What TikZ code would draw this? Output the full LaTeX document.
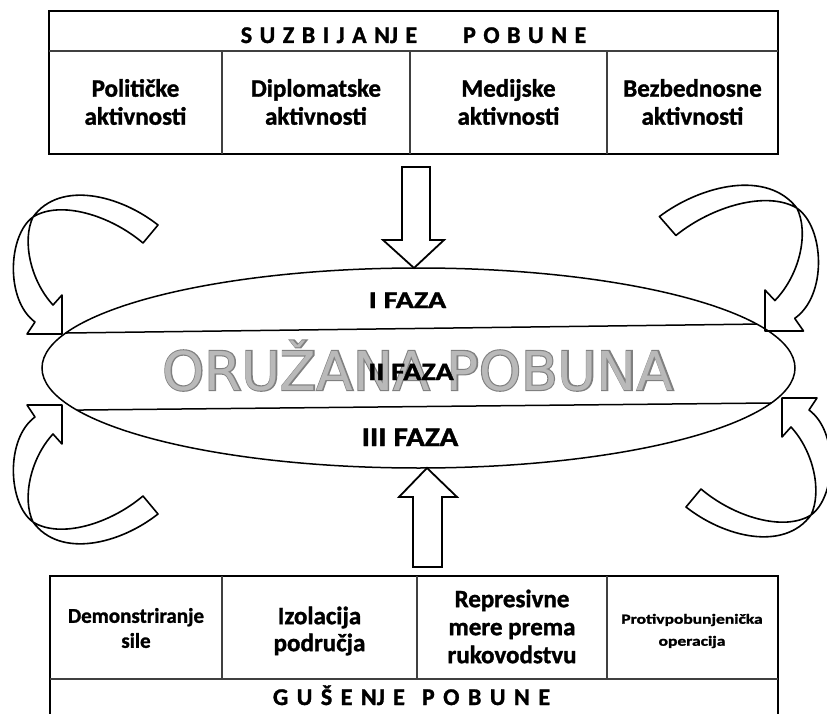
\documentclass[tikz,border=0pt]{standalone}
\usepackage{fontspec}
\setmainfont{Carlito}[BoldFeatures={FakeBold=1.3}]
\newfontfamily\dejavu{DejaVu Sans}
\newfontfamily\dejavuol{DejaVu Sans}[FakeBold=4]
\newcommand\lspa{\hspace{7.5pt}}
\newcommand\lspb{\hspace{8.5pt}}
\tikzset{
  outerbox/.style={draw=black, line width=2.8pt},
  divider/.style={draw=black!75, line width=1.8pt},
  cell/.style={font=\bfseries\fontsize{25}{28}\selectfont, align=center, inner sep=0pt},
  hdr/.style={font=\bfseries\fontsize{24}{28}\selectfont, anchor=base, inner sep=0pt},
  faza/.style={anchor=base, inner sep=0pt},
  blockarrow/.style={draw=black, fill=white, line width=1.8pt, line join=miter},
  curvestyle/.style={draw=black, fill=white, line width=1.6pt, line join=round},
  bigtext/.style={font=\dejavu\fontsize{53.5}{60}\selectfont, anchor=base, inner sep=0pt},
  curvarrow/.pic={
    \path[curvestyle] (96,-109) .. controls (58,-139) and (-2,-154) .. (-29,-117)
      .. controls (-40,-94) and (-32,-54) .. (-9,-29)
      -- (0,-39) -- (0,0) -- (-35,0) -- (-27,-12)
      .. controls (-57,-34) and (-54,-99) .. (-29,-117)
      .. controls (-2,-134) and (48,-119) .. (81,-91) -- cycle;
  }
}
\begin{document}
\begin{tikzpicture}[x=1pt,y=-1pt]
\clip (0,0) rectangle (827,714);
\fill[white] (0,0) rectangle (827,714);

% top box
\draw[outerbox] (49,11) rectangle (778,154);
\draw[divider] (49,51) -- (778,51);
\foreach \xx in {222,410,607} \draw[divider] (\xx,51) -- (\xx,154);
\node[hdr] (suz) at (413.5,43) {S\lspa U\lspa Z\lspa B\lspa I\lspa J\lspa A\lspa NJ\lspa E\hspace{46pt}P\lspa O\lspa B\lspa U\lspa N\lspa E};
\node[cell] (pol) at (135.5,102) {Političke\\aktivnosti};
\node[cell] (dip) at (316,102) {Diplomatske\\aktivnosti};
\node[cell] (med) at (508.5,102) {Medijske\\aktivnosti};
\node[cell] (bez) at (692.5,102) {Bezbednosne\\aktivnosti};

% block arrows
\path[blockarrow] (402,167) -- (430,167) -- (430,240) -- (444,240) -- (414,268) -- (383,240) -- (402,240) -- cycle;
\path[blockarrow] (413,567) -- (413,497) -- (399,497) -- (427,468) -- (457,497) -- (442,497) -- (442,567) -- cycle;

% curved arrows
\pic at (62,334) {curvarrow};
\pic[yscale=-1] at (62,405) {curvarrow};
\pic[xscale=-1.1, yscale=1.05] at (765,331) {curvarrow};
\pic[xscale=-1, yscale=-1] at (782,398) {curvarrow};

% ellipse
\begin{scope}
  \clip (418.5,368) ellipse [x radius=376.5pt, y radius=100pt];
  \draw[line width=1.5pt] (0,333.87) -- (827,323.16);
  \draw[line width=1.5pt] (0,410.85) -- (827,402.42);
\end{scope}
\draw[line width=1.5pt] (418.5,368) ellipse [x radius=376.5pt, y radius=100pt];

% big gray title: dark outline copy behind, light fill in front
\node[bigtext, font=\dejavuol\fontsize{53.5}{60}\selectfont, text=black!50] (oruzanaol) at (418,390) {ORUŽANA POBUNA};
\node[bigtext, text=gray!55] (oruzana) at (418,390) {ORUŽANA POBUNA};

\node[faza, font=\bfseries\fontsize{24}{28}\selectfont, xscale=1.25] (f1) at (407.5,308) {I FAZA};
\node[faza, font=\bfseries\fontsize{25}{28}\selectfont, xscale=1.2] (f2) at (411,380) {II FAZA};
\node[faza, font=\bfseries\fontsize{27}{30}\selectfont, xscale=1.15] (f3) at (410,446) {III FAZA};

% bottom box
\draw[outerbox] (50,576) rectangle (778,740);
\draw[divider] (50,679) -- (778,679);
\foreach \xx in {222,417,607} \draw[divider] (\xx,576) -- (\xx,679);
\node[cell, font=\bfseries\fontsize{21}{25}\selectfont] (dem) at (136,628) {Demonstriranje\\sile};
\node[cell, font=\bfseries\fontsize{25}{27}\selectfont] (izo) at (319.5,631) {Izolacija\\područja};
\node[cell] (rep) at (512,626.5) {Represivne\\mere prema\\rukovodstvu};
\node[cell, font=\bfseries\fontsize{14}{22}\selectfont, xscale=1.25] (pro) at (692,631) {Protivpobunjenička\\operacija};
\node[hdr] (gus) at (411.5,705) {G\lspb U\lspb Š\lspb E\lspb NJ\lspb E\hspace{17pt}P\lspb O\lspb B\lspb U\lspb N\lspb E};
\end{tikzpicture}
\end{document}
